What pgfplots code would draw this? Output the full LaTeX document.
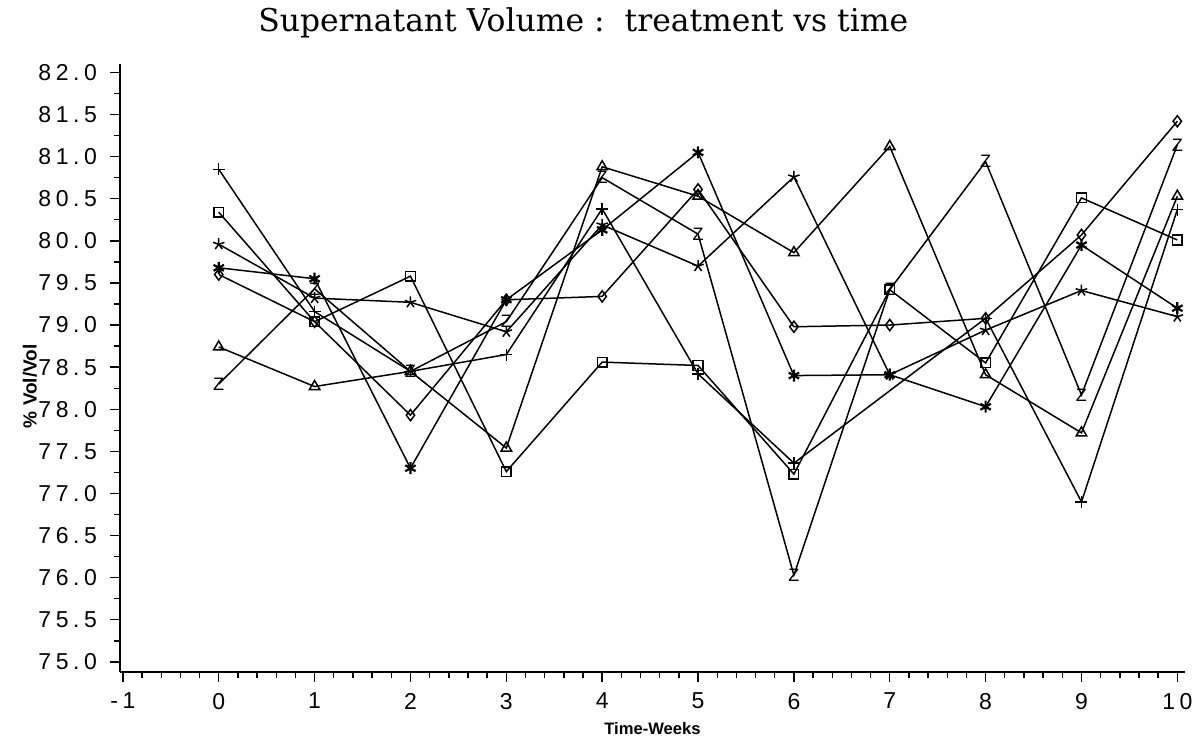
\documentclass[border=0pt]{standalone}
\usepackage{fontspec}
\usepackage{pgfplots}
\pgfplotsset{compat=1.18}
\usetikzlibrary{calc}
\setmainfont{Liberation Sans}
\newfontfamily\titlefont{DejaVu Serif}
\newfontfamily\tickfont[LetterSpace=20]{Liberation Sans}
\newfontfamily\labfont{Liberation Sans}
\begin{document}
\begin{tikzpicture}
\begin{axis}[
  width=532.5pt, height=304pt, scale only axis,
  xmin=-1.03, xmax=10.08, ymin=74.88, ymax=82.1,
  axis lines=left, axis line style={-, line width=0.8pt},
  tick align=outside, tick style={black, line width=0.7pt},
  major tick length=5pt, minor tick length=3pt,
  xtick={-1,0,...,10}, minor x tick num=4,
  xticklabels={-1,0,1,2,3,4,5,6,7,8,9,10},
  ytick={75,75.5,...,82}, minor y tick num=1,
  yticklabels={75.0,75.5,76.0,76.5,77.0,77.5,78.0,78.5,79.0,79.5,80.0,80.5,81.0,81.5,82.0},
  ticklabel style={font=\tickfont\fontsize{11.5}{13}\selectfont},
  yticklabel style={xshift=-3pt},
  xticklabel style={yshift=-2pt},
  clip=false,
  every axis plot/.append style={black, line width=0.75pt, mark size=2.6pt, mark options={solid, line width=0.75pt, fill=white}},
]
\coordinate (sw) at (rel axis cs:0,0);
\coordinate (nw) at (rel axis cs:0,1);
\coordinate (ne) at (rel axis cs:1,1);
% plus
\addplot[mark=+, mark size=3pt] coordinates {(0,80.85)(1,79.16)(2,78.45)(3,78.65)(4,80.38)(5,78.42)(6,77.36)(8,79.08)(9,76.90)(10,80.37)};
% square
\addplot[mark=square, mark size=2.4pt] coordinates {(0,80.34)(1,79.04)(2,79.58)(3,77.26)(4,78.56)(5,78.52)(6,77.23)(7,79.42)(8,78.55)(9,80.51)(10,80.01)};
% star
\addplot[mark=star, mark size=3pt] coordinates {(0,79.96)(1,79.32)(2,79.27)(3,78.92)(4,80.19)(5,79.70)(6,80.76)(7,78.41)(8,78.94)(9,79.41)(10,79.10)};
% hash-like
\addplot[mark=asterisk, mark size=3pt, mark options={solid,line width=1.1pt}] coordinates {(0,79.68)(1,79.55)(2,77.30)(3,79.30)(4,80.13)(5,81.05)(6,78.40)(7,78.41)(8,78.03)(9,79.95)(10,79.20)};
% diamond
\addplot[mark=diamond, mark size=2.8pt] coordinates {(0,79.60)(1,79.04)(2,77.93)(3,79.30)(4,79.34)(5,80.61)(6,78.98)(7,79.00)(8,79.08)(9,80.07)(10,81.42)};
% triangle
\addplot[mark=triangle, mark size=3pt] coordinates {(0,78.74)(1,78.27)(2,78.45)(3,77.54)(4,80.88)(5,80.53)(6,79.86)(7,81.12)(8,78.41)(9,77.72)(10,80.53)};
% Z
\addplot[mark=text, text mark={\labfont\fontsize{9}{9}\selectfont Z}, mark options={solid}] coordinates {(0,78.30)(1,79.43)(2,78.45)(3,79.04)(4,80.75)(5,80.08)(6,76.03)(7,79.42)(8,80.94)(9,78.17)(10,81.14)};
\node[font=\titlefont\fontsize{15.7}{18}\selectfont, anchor=base] at (rel axis cs:0.435,1) [yshift=16pt] {Supernatant Volume :\ \ treatment vs time};
\node[font=\labfont\bfseries\fontsize{8.3}{10}\selectfont, anchor=base] at (rel axis cs:0.5,0) [yshift=-31pt] {Time-Weeks};
\end{axis}
\node[font=\labfont\bfseries\fontsize{9.5}{11}\selectfont, rotate=90, anchor=center] at ($(sw)!0.47!(nw)+(-45pt,0)$) {\% Vol/Vol};
\pgfresetboundingbox
\path ($(sw)+(-60pt,-36pt)$) rectangle ($(ne)+(6.5pt,32pt)$);
\end{tikzpicture}
\end{document}
